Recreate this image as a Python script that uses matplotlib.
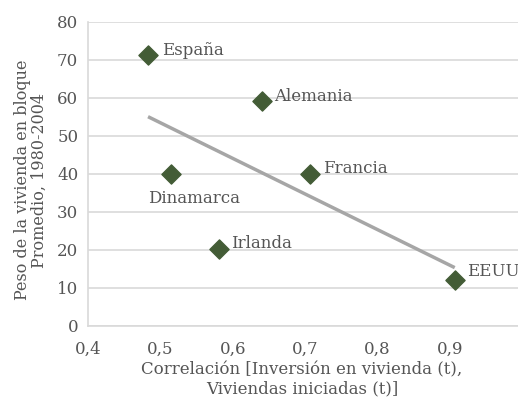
import numpy as np
import matplotlib
matplotlib.use("Agg")
import matplotlib.pyplot as plt

countries = ["España", "Alemania", "Dinamarca", "Francia", "Irlanda", "EEUU"]
corr = [0.483, 0.640, 0.515, 0.707, 0.581, 0.907]
peso = [71.3, 59.2, 40.0, 40.0, 20.3, 12.1]
xticks = [0.4, 0.5, 0.6, 0.7, 0.8, 0.9, 1.0]
xticklabels = ["0,4", "0,5", "0,6", "0,7", "0,8", "0,9", "1"]
yticks = [0, 10, 20, 30, 40, 50, 60, 70, 80]

plt.rcParams['font.family'] = ['DejaVu Serif']
TXT = '#555555'

fig = plt.figure(figsize=(5.18, 4.0), dpi=100)
W, H = 518, 400
left, right, top, bottom = 88, 522, 22, 326
ax = fig.add_axes([left / W, 1 - bottom / H, (right - left) / W, (bottom - top) / H])
ax.set_xlim(0.4, 1.0)
ax.set_ylim(0, 80)
ax.set_yticks(yticks)
ax.set_xticks(xticks)
ax.set_xticklabels(xticklabels)
ax.grid(axis='y', color='#d9d9d9', linewidth=1.2)
ax.set_axisbelow(True)
for s in ['top', 'right']:
    ax.spines[s].set_visible(False)
for s in ['left', 'bottom']:
    ax.spines[s].set_color('#d9d9d9')
    ax.spines[s].set_linewidth(1.2)
ax.tick_params(axis='y', length=0, labelsize=12, labelcolor=TXT, pad=7)
ax.tick_params(axis='x', length=0, labelsize=12, labelcolor=TXT, pad=11)

ax.scatter(corr, peso, marker='D', s=95, color='#435c36', zorder=3, clip_on=False)

m, b = np.polyfit(corr, peso, 1)
xs = np.array([min(corr), max(corr)])
ax.plot(xs, m * xs + b, color='#a6a6a6', linewidth=2.5, zorder=2, solid_capstyle='butt')

offsets = {
    "España": (10, 3, 'left', 'center'),
    "Alemania": (9, 3, 'left', 'center'),
    "Dinamarca": (-17, -18, 'left', 'center'),
    "Francia": (9, 4, 'left', 'center'),
    "Irlanda": (9, 4, 'left', 'center'),
    "EEUU": (9, 6, 'left', 'center'),
}
for c, x, y in zip(countries, corr, peso):
    dx, dy, ha, va = offsets[c]
    ax.annotate(c, (x, y), xytext=(dx, dy), textcoords='offset points',
                ha=ha, va=va, fontsize=12, color=TXT, clip_on=False,
                annotation_clip=False)

ax.set_xlabel("Correlación [Inversión en vivienda (t),\nViviendas iniciadas (t)]",
              fontsize=12, color=TXT, linespacing=1.15, va='top')
ax.xaxis.set_label_coords((302 - left) / (right - left), -(361 - bottom) / (bottom - top))
ax.set_ylabel("Peso de la vivienda en bloque\nPromedio, 1980-2004",
              fontsize=11.5, color=TXT, linespacing=1.0)
ax.yaxis.set_label_coords(-(left - 48) / (right - left), 0.48)

fig.savefig("out.png", dpi=100)
